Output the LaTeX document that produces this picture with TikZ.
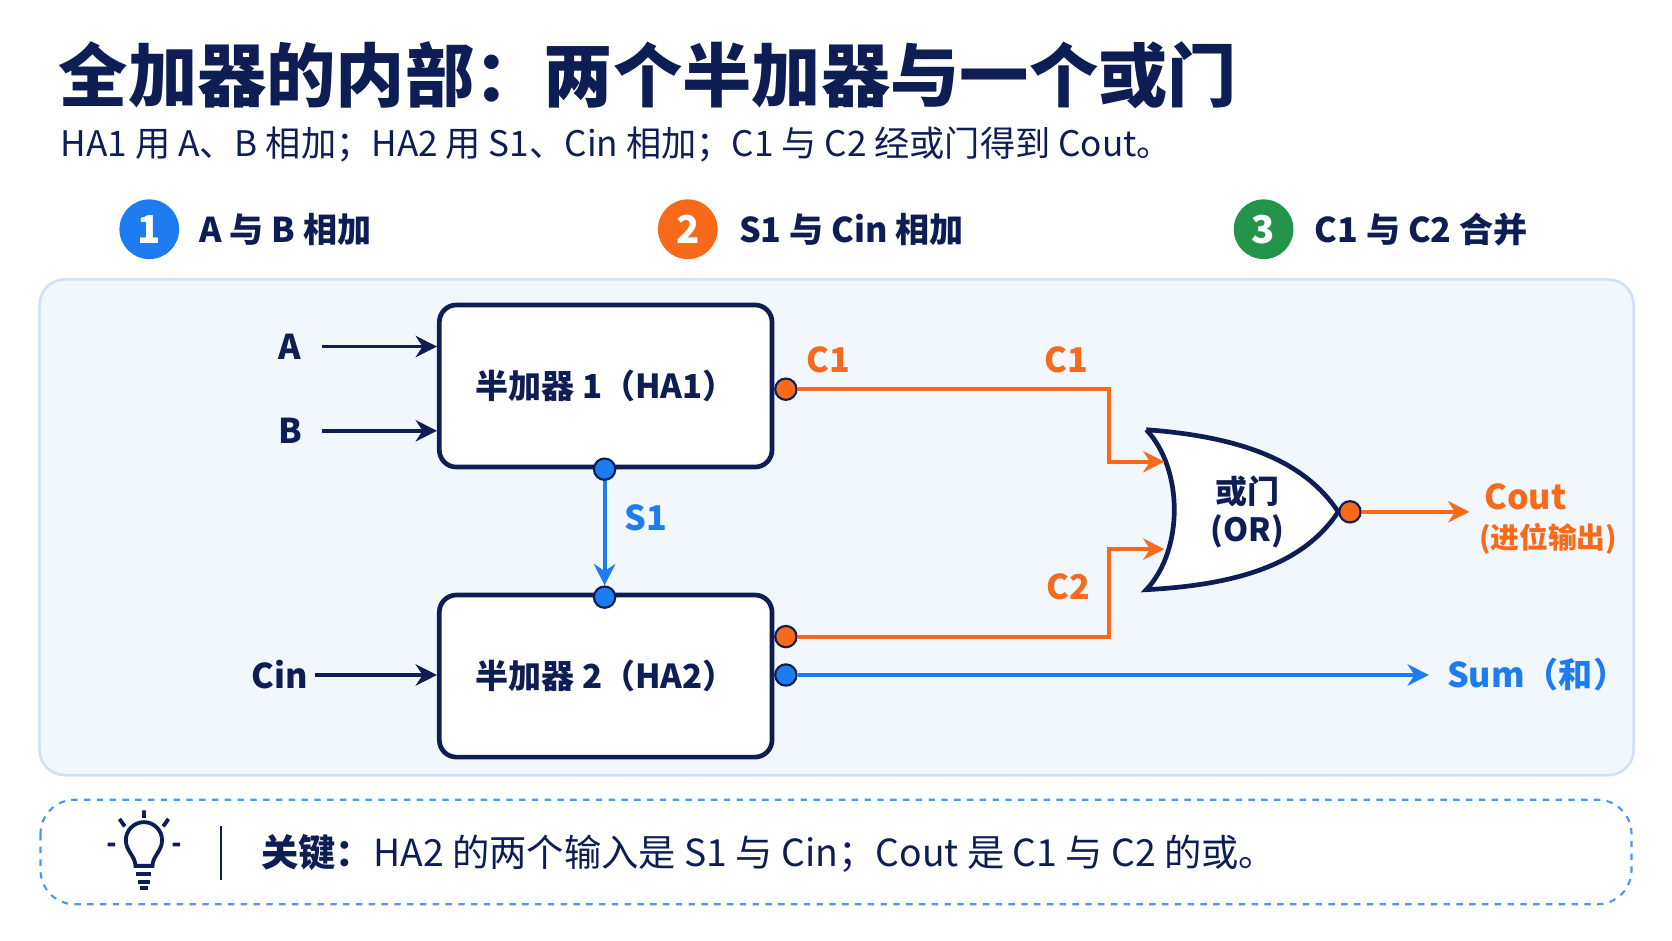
\documentclass[tikz,border=0pt]{standalone}
\usepackage{fontspec}
\setmainfont{Noto Sans CJK SC}
\usetikzlibrary{arrows.meta,positioning}
\definecolor{navyFA}{HTML}{0F1D55}
\definecolor{blueFA}{HTML}{1C7CF0}
\definecolor{orangeFA}{HTML}{F86A1A}
\definecolor{greenFA}{HTML}{23944A}
\definecolor{panelFA}{HTML}{F2F7FE}
\definecolor{edgeFA}{HTML}{CFE1F8}
\tikzset{
  box/.style={draw=navyFA, line width=2.2pt, rounded corners=8pt, fill=white, minimum width=156pt, minimum height=76pt, font=\fontsize{15.5}{18}\selectfont\bfseries, text=navyFA},
  step/.style={circle, fill=#1, text=white, minimum size=28pt, inner sep=0pt, font=\fontsize{18}{20}\selectfont\bfseries},
  head/.style={anchor=west, text=navyFA, font=\fontsize{16}{19}\selectfont\bfseries},
  port/.style={circle, draw=navyFA, line width=1pt, fill=#1, minimum size=10pt, inner sep=0pt},
  wire/.style={line width=1.8pt, -{Stealth[length=10pt,width=10pt]}},
  lbl/.style={font=\fontsize{16}{19}\selectfont\bfseries}
}
\begin{document}
\begin{tikzpicture}[x=0.5pt,y=-0.5pt]
\useasboundingbox (0,0) rectangle (1568,882);
\fill[white] (0,0) rectangle (1568,882);

% title
\node[anchor=base west, text=navyFA, font=\fontsize{32.5}{38}\selectfont\bfseries] (title) at (48,95) {全加器的内部：两个半加器与一个或门};
\node[anchor=base west, text=navyFA, font=\fontsize{16.5}{19}\selectfont] (sub) at (50,147) {HA1 用 A、B 相加；HA2 用 S1、Cin 相加；C1 与 C2 经或门得到 Cout。};

% steps
\node[step=blueFA] (n1) at (140,215) {1};
\node[head] (h1) at (180,215) {A 与 B 相加};
\node[step=orangeFA] (n2) at (645,215) {2};
\node[head] (h2) at (686,215) {S1 与 Cin 相加};
\node[step=greenFA] (n3) at (1185,215) {3};
\node[head] (h3) at (1226,215) {C1 与 C2 合并};

% panel
\draw[edgeFA, line width=1.2pt, fill=panelFA, rounded corners=12pt] (37,262) rectangle (1532,727);

% half adders
\node[box] (ha1) at (568,362) {半加器 1（HA1）};
\node[box] (ha2) at (568,634) {半加器 2（HA2）};

% inputs
\node[lbl, text=navyFA] (a) at (272,325) {A};
\node[lbl, text=navyFA] (b) at (272,404) {B};
\node[lbl, text=navyFA] (cin) at (262,633) {Cin};
\draw[wire, navyFA] (a.east)++(12,0) -- (ha1.west |- a);
\draw[wire, navyFA] (b.east)++(12,0) -- (ha1.west |- b);
\draw[wire, navyFA] (cin.east) -- (ha2.west |- cin);

% OR gate
\coordinate (gtop) at (1075,403);
\coordinate (gbot) at (1075,553);
\coordinate (gtip) at (1255,480);
\draw[navyFA, line width=2.2pt, fill=white] (gtop) .. controls (1110,440) and (1110,516) .. (gbot)
  .. controls (1170,548) and (1225,525) .. (gtip)
  .. controls (1225,435) and (1170,410) .. (gtop);
\node[text=navyFA, align=center, font=\fontsize{15}{18}\selectfont\bfseries] (or) at (1170,480) {或门\\(OR)};
\coordinate (in1) at (1092,433);
\coordinate (in2) at (1092,515);

% ports
\node[port=orangeFA] (c1) at (737,365) {};
\node[port=blueFA] (s1a) at (567,440) {};
\node[port=blueFA] (s1b) at (567,560) {};
\node[port=orangeFA] (c2) at (737,597) {};
\node[port=blueFA] (sum) at (737,633) {};
\node[port=orangeFA] (out) at (1266,480) {};

% wires
\draw[wire, orangeFA] (c1) -| (1040,433) -- (in1);
\draw[wire, orangeFA] (c2) -| (1040,515) -- (in2);
\draw[wire, blueFA] (s1a) -- (s1b);
\node[lbl, text=orangeFA] (lc1a) at (777,337) {C1};
\node[lbl, text=orangeFA] (lc1b) at (1000,337) {C1};
\node[lbl, text=orangeFA] (lc2) at (1002,550) {C2};
\node[lbl, text=blueFA] (ls1) at (606,486) {S1};
\coordinate (sumend) at (1340,633);
\draw[wire, blueFA] (sum) -- (sumend);
\node[lbl, text=blueFA, anchor=west] (lsum) at (1350,633) {Sum（和）};
\coordinate (coutend) at (1378,480);
\draw[wire, orangeFA] (out) -- (coutend);
\node[lbl, text=orangeFA, anchor=west] (lcout) at (1385,466) {Cout};
\node[text=orangeFA, anchor=west, font=\fontsize{13.5}{16}\selectfont\bfseries] (lcout2) at (1380,505) {(进位输出)};

% key box
\draw[blueFA!80, line width=1pt, dashed, rounded corners=16pt] (38,750) rectangle (1530,848);
\begin{scope}[navyFA, line width=1.8pt]
  \draw (127,812) .. controls (127,803) and (118,798) .. (118,788) arc (180:360:17) .. controls (152,798) and (143,803) .. (143,812) -- cycle;
  \draw (128,820) -- (142,820) (129,827) -- (141,827) (131,833) -- (139,833);
  \draw (135,760) -- (135,767) (112,768) -- (117,775) (158,768) -- (153,775) (101,792) -- (108,792) (162,792) -- (169,792);
  \draw[line width=1pt] (207,775) -- (207,825);
\end{scope}
\node[anchor=west, text=navyFA, font=\fontsize{17.5}{20}\selectfont] (key) at (238,800) {\textbf{关键：}HA2 的两个输入是 S1 与 Cin；Cout 是 C1 与 C2 的或。};
\end{tikzpicture}
\end{document}
